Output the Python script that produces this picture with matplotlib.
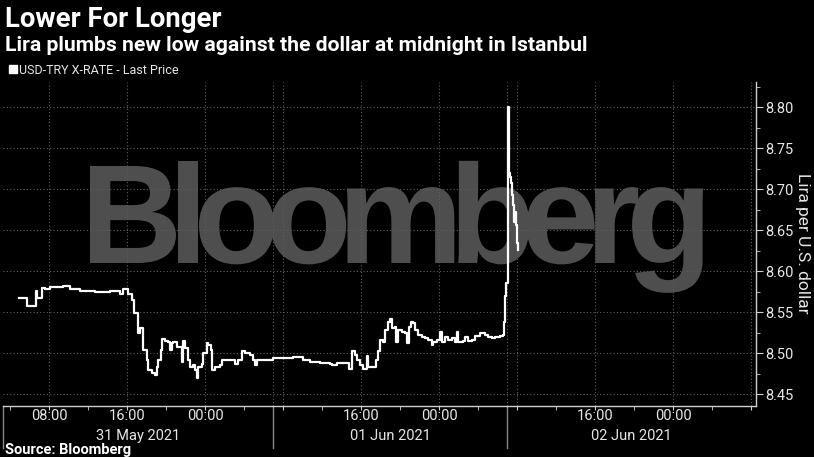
import matplotlib
matplotlib.use('Agg')
import matplotlib.pyplot as plt
import matplotlib.font_manager as fm
from matplotlib.ticker import MultipleLocator
from matplotlib.lines import Line2D
from matplotlib.textpath import TextPath, TextToPath
from matplotlib.patches import PathPatch
from matplotlib.transforms import Affine2D, blended_transform_factory

# USD-TRY last price, hours counted from 31 May 2021 00:00
hours = [4.95, 5.71, 6.67, 6.77, 7.25, 7.59, 8.10, 9.44, 10.15, 11.18, 12.72, 14.26,
         15.28, 15.59, 16.10, 16.48, 16.72, 17.13, 17.33, 17.67, 18.02, 18.18, 18.53,
         18.87, 19.05, 19.21, 19.46, 19.62, 19.90, 20.24, 20.41, 20.58, 20.75, 21.10,
         21.44, 21.61, 21.77, 21.95, 22.29, 22.46, 22.80, 22.97, 23.15, 23.31, 23.66,
         23.83, 24.17, 24.34, 24.58, 24.69, 25.03, 25.54, 25.71, 26.56, 27.08, 27.42,
         27.76, 28.10, 28.62, 28.95, 29.13, 29.30, 30.33, 31.01, 32.03, 33.06, 34.08,
         34.77, 35.79, 36.82, 36.99, 37.51, 38.70, 38.80, 39.05, 39.38, 39.62, 39.90,
         40.24, 40.58, 40.75, 41.26, 41.54, 41.77, 41.95, 42.29, 42.46, 42.80, 42.97,
         43.15, 43.49, 43.59, 43.83, 44.17, 44.51, 44.69, 44.95, 45.10, 45.36, 45.54,
         45.88, 46.23, 46.56, 46.90, 47.25, 47.42, 47.76, 48.10, 48.28, 48.62, 48.95,
         49.30, 49.64, 49.82, 49.98, 50.49, 50.67, 51.01, 51.35, 51.69, 52.21, 52.72,
         53.06, 53.41, 53.74, 54.26, 54.60, 54.67, 54.77, 54.87, 55.05, 55.18, 55.28,
         55.35, 55.45, 55.52, 55.62, 55.72, 55.79, 55.90, 55.97, 56.07, 56.13]
usdtry = [8.567, 8.557, 8.576, 8.567, 8.579, 8.578, 8.580, 8.582, 8.578, 8.576, 8.574, 8.576,
          8.572, 8.578, 8.572, 8.565, 8.549, 8.524, 8.530, 8.504, 8.491, 8.479, 8.476,
          8.473, 8.483, 8.491, 8.504, 8.517, 8.515, 8.514, 8.504, 8.512, 8.514, 8.507,
          8.507, 8.489, 8.515, 8.506, 8.491, 8.483, 8.485, 8.479, 8.469, 8.483, 8.487,
          8.500, 8.512, 8.510, 8.504, 8.479, 8.483, 8.485, 8.491, 8.491, 8.487, 8.491,
          8.502, 8.500, 8.498, 8.491, 8.485, 8.492, 8.491, 8.494, 8.494, 8.495, 8.492,
          8.489, 8.488, 8.487, 8.485, 8.488, 8.488, 8.481, 8.503, 8.498, 8.492, 8.485,
          8.480, 8.496, 8.483, 8.483, 8.491, 8.502, 8.516, 8.514, 8.528, 8.538, 8.541,
          8.530, 8.532, 8.514, 8.528, 8.526, 8.525, 8.512, 8.532, 8.538, 8.536, 8.528,
          8.522, 8.520, 8.518, 8.516, 8.510, 8.514, 8.516, 8.526, 8.514, 8.520, 8.516,
          8.518, 8.514, 8.526, 8.513, 8.515, 8.520, 8.515, 8.516, 8.521, 8.524, 8.522,
          8.520, 8.518, 8.520, 8.521, 8.522, 8.538, 8.569, 8.585, 8.800, 8.719, 8.715,
          8.707, 8.700, 8.693, 8.680, 8.660, 8.672, 8.656, 8.634, 8.630, 8.626]

tick_hours = [8, 16, 24, 32, 40, 48, 56, 64, 72, 80]
tick_labels = ['08:00', '16:00', '00:00', '', '16:00', '00:00', '', '16:00', '00:00', '']
day_breaks = [31, 55]
day_labels = ['31 May 2021', '01 Jun 2021', '02 Jun 2021']
y_ticks = [8.45, 8.50, 8.55, 8.60, 8.65, 8.70, 8.75, 8.80]


def pick_font(*names):
    for n in names:
        try:
            fm.findfont(fm.FontProperties(family=n), fallback_to_default=False)
            return n
        except ValueError:
            pass
    return 'DejaVu Sans'


FONT = pick_font('Roboto', 'DejaVu Sans')
WIDE = pick_font('Liberation Sans', 'DejaVu Sans')
plt.rcParams['font.family'] = [FONT, 'DejaVu Sans']
FG = '#e6e6e6'
GRID = '#5e5e5e'

W, H = 814, 457
fig = plt.figure(figsize=(W / 100, H / 100), dpi=100, facecolor='black')
ax = fig.add_axes([3 / W, 1 - 405.5 / H, 753 / W, 323.5 / H])
ax.set_facecolor('black')

xlo, xhi = 3.28, 80.5
ax.plot(hours, usdtry, drawstyle='steps-post', color='white', lw=1.6, zorder=3)
ax.set_xlim(xlo, xhi)
ax.set_ylim(8.436, 8.8305)

for s in ['left', 'top']:
    ax.spines[s].set_visible(False)
for s in ['right', 'bottom']:
    ax.spines[s].set_color('#d0d0d0')
    ax.spines[s].set_linewidth(1)

ax.yaxis.tick_right()
ax.yaxis.set_label_position('right')
ax.set_yticks(y_ticks, [f'{v:.2f}' for v in y_ticks])
ax.yaxis.set_minor_locator(MultipleLocator(0.025))
ax.set_xticks(tick_hours, tick_labels)
ax.xaxis.set_minor_locator(MultipleLocator(4))
ax.tick_params(axis='y', which='both', colors='#d0d0d0', labelcolor=FG, labelsize=10.5,
               direction='out', length=5, pad=1.5)
ax.tick_params(axis='y', which='minor', length=3)
ax.tick_params(axis='x', which='both', colors='#d0d0d0', labelcolor=FG, labelsize=10.5,
               direction='out', length=3, pad=-0.5)
ax.set_ylabel('Lira per U.S. dollar', color=FG, fontsize=12.5, rotation=270, labelpad=12)

ax.grid(True, which='major', color=GRID, ls=(0, (1, 2)), lw=0.8)
for b in day_breaks:
    ax.axvline(b, color=GRID, ls=(0, (1, 2)), lw=0.8, zorder=1.5)

# day separators and date labels under the axis
bt = blended_transform_factory(ax.transData, ax.transAxes)
edges = [xlo] + day_breaks + [xhi]
for b in edges[:-1]:
    ax.plot([b, b], [0, -0.13], transform=bt, clip_on=False, color='#8a8a8a', lw=1)
for i, lab in enumerate(day_labels):
    ax.text((edges[i] + edges[i + 1]) / 2, -0.094, lab, transform=bt, ha='center',
            va='center', color=FG, fontsize=10.5)

# watermark, tightly tracked like the Bloomberg logo
word = 'Bloomberg'
wprop = fm.FontProperties(family=WIDE, weight='bold', size=100)
ttp = TextToPath()
k = 97 / TextPath((0, 0), 'B', prop=wprop).get_extents().height
full = TextPath((0, 0), word, prop=wprop).get_extents()
track = (full.width * k - 613) / (len(word) - 1)
for i, ch in enumerate(word):
    adv = ttp.get_text_width_height_descent(word[:i], wprop, ismath=False)[0] if i else 0
    p = TextPath((0, 0), ch, prop=wprop)
    tr = Affine2D().translate(adv - full.x0, 0).scale(k).translate(90 - i * track, H - 263)
    ax.add_patch(PathPatch(p, transform=tr, facecolor='#4e4e4e', edgecolor='none', zorder=0.2))

# titles, legend, source
fig.text(5 / W, 1 - 27 / H, 'Lower For Longer', color='white', fontsize=19.8,
         fontweight='bold', va='baseline')
fig.text(5 / W, 1 - 51 / H, 'Lira plumbs new low against the dollar at midnight in Istanbul',
         color='white', fontsize=15.2, fontweight='bold', va='baseline')
handle = Line2D([], [], marker='s', color='white', ls='none', markersize=6)
leg = fig.legend([handle], ['USD-TRY X-RATE - Last Price'], loc='center left',
                 bbox_to_anchor=(3 / W, 1 - 70 / H), frameon=False, handlelength=0.6,
                 handletextpad=0.15, borderpad=0, prop={'size': 9})
for t in leg.get_texts():
    t.set_color(FG)
fig.text(5 / W, 1 - 454 / H, 'Source: Bloomberg', color='white', fontsize=10.5,
         fontweight='bold', va='baseline')

fig.savefig('out.png', dpi=100, facecolor='black')
